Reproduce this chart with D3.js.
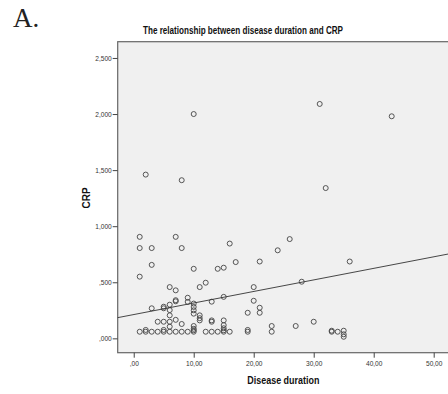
<!DOCTYPE html>
<html><head><meta charset="utf-8">
<script src="https://cdn.jsdelivr.net/npm/d3@7"></script>
<style>html,body{margin:0;padding:0;background:#fff;overflow:hidden}</style>
</head><body>
<svg id="c" width="448" height="394"></svg>
<script>
const titleText = "The relationship between disease duration and CRP";
const xLabel = "Disease duration";
const yLabel = "CRP";
const panelLabel = "A.";
const xTicks = [0, 10, 20, 30, 40, 50];
const yTicks = [0, 0.5, 1.0, 1.5, 2.0, 2.5];
const duration = [1,1,1,1, 2,2,2, 3,3,3,3, 4,4, 5,5,5,5,5, 6,6,6,6,6,6,6, 7,7,7,7,7,7, 8,8,8,8, 9,9,9,
  10,10,10,10,10,10,10,10,10,10, 11,11,11,11, 12,12, 13,13,13,13, 14,14, 15,15,15,15,15,15,15, 16,16, 17,
  19,19,19, 20,20, 21,21,21, 23,23, 24, 26, 27, 28, 30, 31, 32, 33,33, 34, 35,35,35, 36, 43];
const crp = [0.905,0.805,0.55,0.059, 1.46,0.059,0.075, 0.805,0.655,0.268,0.059, 0.148,0.059,
  0.282,0.268,0.148,0.059,0.075, 0.457,0.30,0.252,0.205,0.148,0.104,0.059,
  0.905,0.428,0.34,0.33,0.165,0.059, 1.41,0.805,0.128,0.059, 0.362,0.325,0.059,
  2.0,0.62,0.31,0.28,0.25,0.22,0.11,0.085,0.059,0.072, 0.457,0.205,0.18,0.16, 0.496,0.059,
  0.327,0.16,0.148,0.059, 0.62,0.059, 0.63,0.37,0.16,0.118,0.09,0.059,0.072, 0.845,0.059, 0.68,
  0.228,0.075,0.059, 0.457,0.335, 0.685,0.273,0.228, 0.11,0.059, 0.785, 0.885, 0.11, 0.505, 0.148,
  2.09, 1.34, 0.068,0.059, 0.059, 0.068,0.036,0.014, 0.685, 1.98];
const regIntercept = 0.212;
const regSlope = 0.0103;

const svg = d3.select("#c");
const L = 117.7, R = 449, T = 41.7, B = 352.7;
const x = d3.scaleLinear().domain([-2.67, 52.55]).range([L, R]);
const y = d3.scaleLinear().domain([-0.128, 2.645]).range([B, T]);
const sans = "Liberation Sans, Arial, sans-serif";

svg.append("text").attr("x", 13).attr("y", 27).attr("font-family", "Liberation Serif, serif")
  .attr("font-size", 27).attr("fill", "#222").text(panelLabel);

svg.append("text").attr("x", 243).attr("y", 34).attr("text-anchor", "middle")
  .attr("font-family", sans).attr("font-weight", "bold")
  .attr("font-size", 10).attr("fill", "#111")
  .attr("textLength", 200).attr("lengthAdjust", "spacingAndGlyphs").text(titleText);

svg.append("rect").attr("x", L).attr("y", T).attr("width", R - L).attr("height", B - T)
  .attr("fill", "#f0f0f0").attr("stroke", "#666").attr("stroke-width", 1.2);

const fmtY = v => d3.format(".3f")(v).replace(".", ",").replace(/^0/, "");
const fmtX = v => d3.format(".2f")(v).replace(".", ",").replace(/^0/, "");

const gy = svg.append("g").attr("transform", `translate(${L},0)`)
  .call(d3.axisLeft(y).tickValues(yTicks).tickFormat(fmtY).tickSize(5).tickPadding(1));
const gx = svg.append("g").attr("transform", `translate(0,${B})`)
  .call(d3.axisBottom(x).tickValues(xTicks).tickFormat(fmtX).tickSize(5).tickPadding(3));
[gy, gx].forEach(g => {
  g.select(".domain").remove();
  g.selectAll(".tick line").attr("stroke", "#444");
  g.selectAll(".tick text").attr("font-family", sans)
    .attr("font-size", 8).attr("fill", "#333")
    .each(function() {
      const w = this.getComputedTextLength();
      d3.select(this).attr("textLength", w * 0.82).attr("lengthAdjust", "spacingAndGlyphs");
    });
});

const pts = duration.map((d, i) => ({d, c: crp[i]}));
svg.append("g").selectAll("circle").data(pts).join("circle")
  .attr("cx", p => x(p.d)).attr("cy", p => y(p.c)).attr("r", 2.5)
  .attr("fill", "none").attr("stroke", "#444").attr("stroke-width", 0.9);

const x0 = x.domain()[0], x1 = x.domain()[1];
svg.append("line").attr("x1", x(x0)).attr("y1", y(regIntercept + regSlope * x0))
  .attr("x2", x(x1)).attr("y2", y(regIntercept + regSlope * x1))
  .attr("stroke", "#333").attr("stroke-width", 0.9);

svg.append("text").attr("x", (L + R) / 2).attr("y", 384).attr("text-anchor", "middle")
  .attr("font-family", sans).attr("font-weight", "bold")
  .attr("font-size", 10).attr("fill", "#111")
  .attr("textLength", 72).attr("lengthAdjust", "spacingAndGlyphs").text(xLabel);

svg.append("text").attr("transform", "translate(90,198) rotate(-90)").attr("text-anchor", "middle")
  .attr("font-family", sans).attr("font-weight", "bold")
  .attr("font-size", 10).attr("fill", "#111").text(yLabel);
</script>
</body></html>
